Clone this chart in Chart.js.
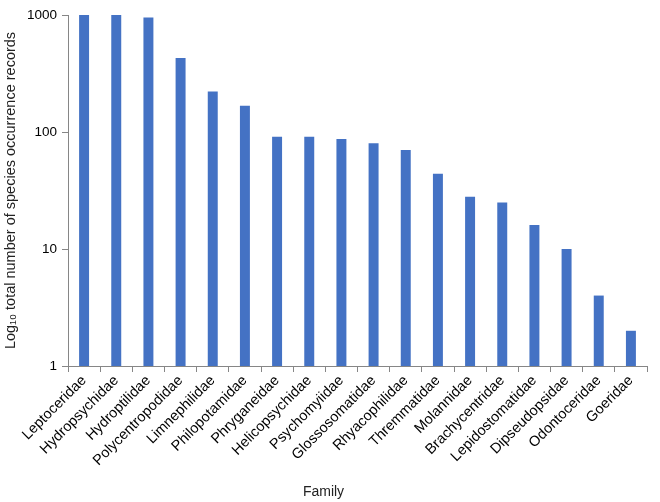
<!DOCTYPE html>
<html>
<head>
<meta charset="utf-8">
<script src="https://cdn.jsdelivr.net/npm/chart.js@4"></script>
<style>
  html, body { margin: 0; padding: 0; background: #fff; }
  #wrap { width: 660px; height: 502px; }
</style>
</head>
<body>
<div id="wrap"><canvas id="chart-families" width="660" height="502"></canvas></div>
<script>
const families = [
  "Leptoceridae", "Hydropsychidae", "Hydroptilidae", "Polycentropodidae",
  "Limnephilidae", "Philopotamidae", "Phryganeidae", "Helicopsychidae",
  "Psychomyiidae", "Glossosomatidae", "Rhyacophilidae", "Thremmatidae",
  "Molannidae", "Brachycentridae", "Lepidostomatidae", "Dipseudopsidae",
  "Odontoceridae", "Goeridae",
];
const records = [1000, 1000, 950, 430, 222, 168, 91, 91, 87, 80, 70, 44, 28, 25, 16, 10, 4, 2];
const yTicks = [1, 10, 100, 1000];

const familiesCanvas = document.querySelector("#chart-families");
const axisColor = "#868686";

const chartFamilies = new Chart(familiesCanvas, {
  type: "bar",
  data: {
    labels: families,
    datasets: [
      {
        label: "Records",
        data: records,
        backgroundColor: "#4472C4",
        borderWidth: 0,
        barPercentage: 0.31,
        categoryPercentage: 1,
      },
    ],
  },
  options: {
    responsive: false,
    animation: false,
    layout: { padding: { top: 15, right: 13, bottom: 1, left: 0 } },
    plugins: {
      legend: { display: false },
      tooltip: { enabled: false },
      // x title lives here so it centres on the whole chart like the original
      title: {
        display: true,
        position: "bottom",
        text: "Family",
        color: "#222",
        font: { family: "Liberation Sans", size: 14, weight: "normal" },
        padding: { top: 6, bottom: 0 },
      },
    },
    scales: {
      x: {
        grid: { drawOnChartArea: false, tickLength: 6, color: axisColor },
        border: { color: axisColor },
        ticks: {
          color: "#000",
          maxRotation: 45,
          minRotation: 45,
          padding: 0,
          font: { family: "Liberation Sans", size: 14.5 },
        },
        afterFit: (scale) => {
          scale.height = 112.2;
        },
      },
      y: {
        type: "logarithmic",
        min: 1,
        max: 1000,
        grid: { drawOnChartArea: false, tickLength: 6, color: axisColor },
        border: { color: axisColor },
        afterBuildTicks: (scale) => {
          scale.ticks = yTicks.map((v) => ({ value: v }));
        },
        ticks: {
          color: "#000",
          padding: 5,
          callback: (v) => String(v),
          font: { family: "Liberation Sans", size: 13.5 },
        },
        title: {
          display: true,
          text: "Log\u2081\u2080 total number of species occurrence records",
          color: "#222",
          font: { family: "Liberation Sans", size: 14.5 },
          padding: { top: 2, bottom: 6 },
        },
        afterFit: (scale) => {
          scale.width = 68;
        },
      },
    },
  },
});
</script>
</body>
</html>
